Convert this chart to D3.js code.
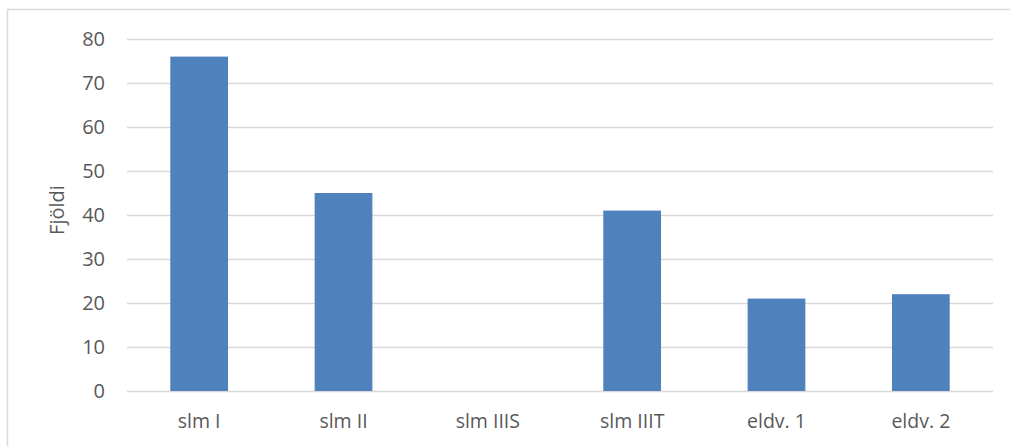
<!DOCTYPE html>
<html><head><meta charset="utf-8">
<script src="https://cdn.jsdelivr.net/npm/d3@7"></script>
<style>body{margin:0;background:#fff}svg{display:block}</style>
</head><body><svg id="c" width="1010" height="446"></svg>
<script>
const categories = ["slm I", "slm II", "slm IIIS", "slm IIIT", "eldv. 1", "eldv. 2"];
const values = [76, 45, 0, 41, 21, 22];
const yTicks = [0, 10, 20, 30, 40, 50, 60, 70, 80];
const yTitle = "Fjöldi";

const svg = d3.select("#c");
const font = "'Open Sans', sans-serif";
const grey = "#595959";
const m = {left: 127, right: 993, top: 39, bottom: 391};

svg.append("rect").attr("x", 7.5).attr("y", 9.5).attr("width", 1010).attr("height", 445)
  .attr("fill", "#fff").attr("stroke", "#d9d9d9").attr("stroke-width", 1.5);

const x = d3.scaleBand().domain(categories).range([m.left, m.right]).paddingInner(0.6).paddingOuter(0.3);
const y = d3.scaleLinear().domain([0, 80]).range([m.bottom, m.top]);

const yAxis = svg.append("g").attr("transform", `translate(${m.left},0)`)
  .call(d3.axisLeft(y).tickValues(yTicks).tickSize(-(m.right - m.left)).tickPadding(22));
yAxis.select(".domain").remove();
yAxis.selectAll(".tick line").attr("stroke", "#d9d9d9").attr("stroke-width", 1.5);
yAxis.selectAll(".tick text").attr("fill", grey).attr("font-family", font).attr("font-size", 20);

svg.append("g").selectAll("rect").data(categories).join("rect")
  .attr("x", d => x(d)).attr("width", x.bandwidth())
  .attr("y", (d, i) => y(values[i])).attr("height", (d, i) => y(0) - y(values[i]))
  .attr("fill", "#4F81BD");

const xAxis = svg.append("g").attr("transform", `translate(0,${m.bottom})`)
  .call(d3.axisBottom(x).tickSize(0).tickPadding(23));
xAxis.select(".domain").remove();
xAxis.selectAll(".tick text").attr("fill", grey).attr("font-family", font).attr("font-size", 19.5);

svg.append("text").attr("transform", "translate(64,210) rotate(-90)")
  .attr("text-anchor", "middle").attr("fill", grey).attr("font-family", font).attr("font-size", 20)
  .text(yTitle);
</script></body></html>
